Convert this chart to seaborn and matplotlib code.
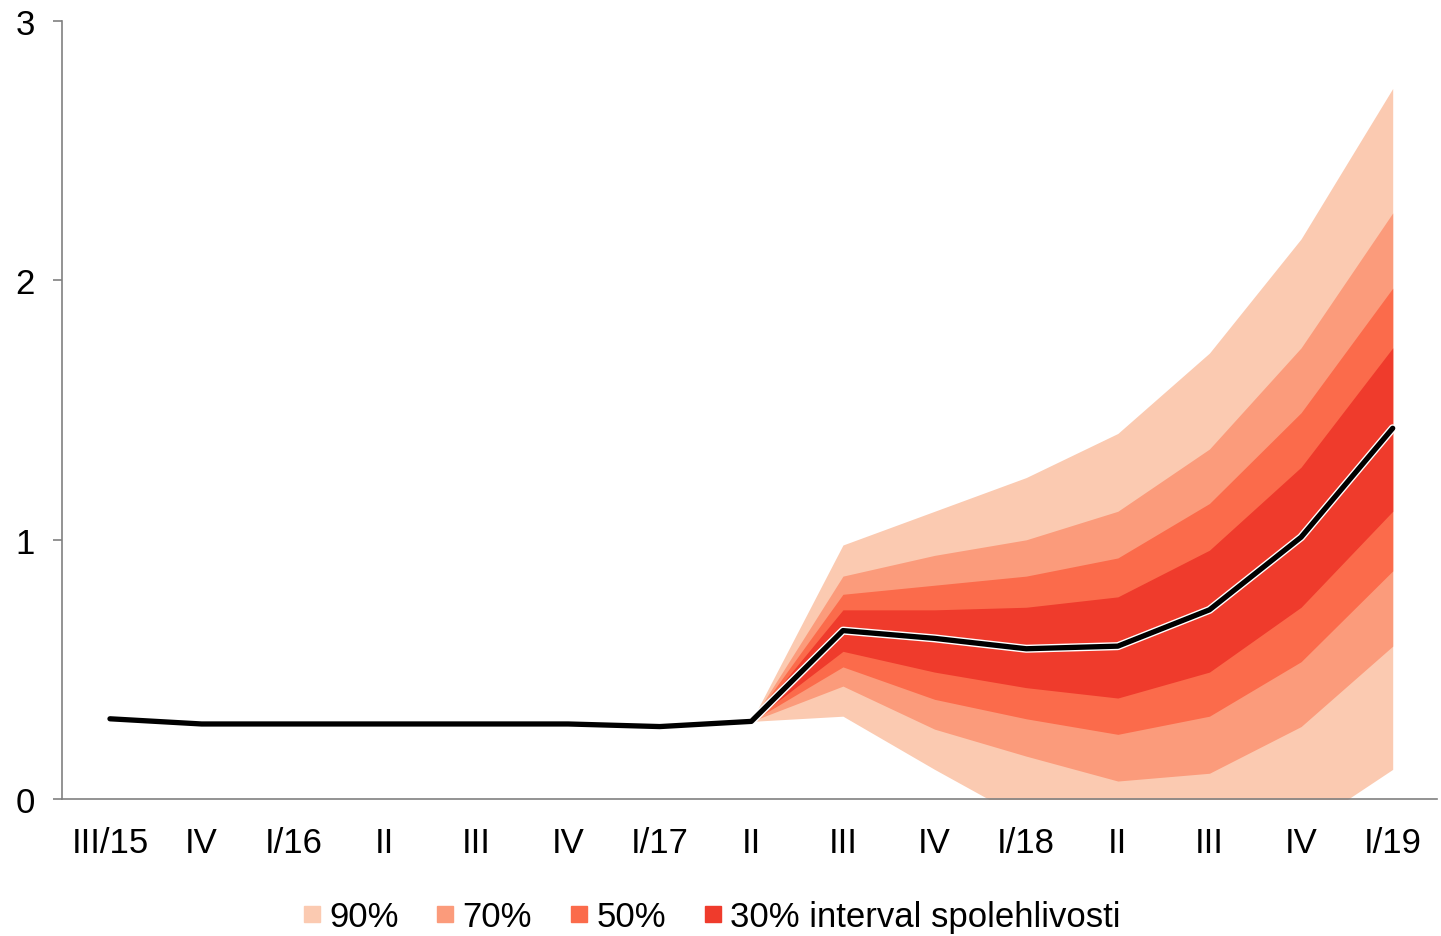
import numpy as np
import pandas as pd
import matplotlib
matplotlib.use("Agg")
import matplotlib.pyplot as plt
import matplotlib.patheffects as pe
from matplotlib.lines import Line2D
import seaborn as sns

# quarters on the x axis
labels = ["III/15", "IV", "I/16", "II", "III", "IV", "I/17", "II",
          "III", "IV", "I/18", "II", "III", "IV", "I/19"]

# central projection
central = [0.31, 0.29, 0.29, 0.29, 0.29, 0.29, 0.28, 0.30,
           0.65, 0.62, 0.58, 0.59, 0.73, 1.01, 1.43]

# fan bands, from II/17 to I/19
fan_start = 7
upper90 = [0.30, 0.98, 1.11, 1.24, 1.41, 1.72, 2.16, 2.74]
upper70 = [0.30, 0.86, 0.94, 1.00, 1.11, 1.35, 1.74, 2.26]
upper50 = [0.30, 0.79, 0.825, 0.86, 0.93, 1.14, 1.49, 1.97]
upper30 = [0.30, 0.73, 0.73, 0.74, 0.78, 0.96, 1.28, 1.74]
lower30 = [0.30, 0.57, 0.49, 0.43, 0.39, 0.49, 0.74, 1.11]
lower50 = [0.30, 0.51, 0.385, 0.31, 0.25, 0.32, 0.53, 0.88]
lower70 = [0.30, 0.436, 0.27, 0.166, 0.07, 0.10, 0.28, 0.59]
lower90 = [0.30, 0.32, 0.115, -0.08, -0.15, -0.2, -0.12, 0.115]

legend_labels = ["90%", "70%", "50%", "30% interval spolehlivosti"]
colors = ["#fbcab1", "#fb9b7b", "#fb6b4b", "#ef3b2c"]

sns.set_style("white")
plt.rcParams['font.family'] = ['Liberation Sans', 'DejaVu Sans']
plt.rcParams['text.color'] = 'black'

fig = plt.figure(figsize=(14.41, 9.37), dpi=100)
ax = fig.add_axes([0.043, 0.146, 0.954, 0.8305])

xs = np.arange(len(labels))
xf = xs[fan_start:]
bands = [(lower90, upper90), (lower70, upper70), (lower50, upper50), (lower30, upper30)]
for (lo, hi), c in zip(bands, colors):
    ax.fill_between(xf, lo, hi, color=c, linewidth=0)

df = pd.DataFrame({"x": xs, "y": central})
sns.lineplot(data=df, x="x", y="y", ax=ax, color="black", linewidth=3.8,
             solid_capstyle="round",
             path_effects=[pe.Stroke(linewidth=5.8, foreground="white"), pe.Normal()])

ax.set_xlim(-0.524, 14.48)
ax.set_ylim(0, 3)
ax.set_yticks([0, 1, 2, 3])
ax.set_xticks(xs)
ax.set_xticklabels(labels)
ax.set_xlabel("")
ax.set_ylabel("")

for s in ["top", "right"]:
    ax.spines[s].set_visible(False)
for s in ["left", "bottom"]:
    ax.spines[s].set_color("#808080")
    ax.spines[s].set_linewidth(1.2)

ax.tick_params(axis="y", length=6.5, width=1.2, color="#808080", pad=13,
               labelsize=25, labelcolor="black", left=True, direction="out")
ax.tick_params(axis="x", length=0, pad=19, labelsize=25, labelcolor="black")

handles = [Line2D([], [], marker="s", linestyle="", markersize=12,
                  markerfacecolor=c, markeredgecolor=c) for c in colors]
fig.legend(handles, legend_labels, loc="center", bbox_to_anchor=(0.491, 0.021),
           ncol=4, frameon=False, fontsize=25, handletextpad=0.0,
           columnspacing=0.85, handlelength=1.0, labelcolor="black")

fig.savefig("out.png", dpi=100)
